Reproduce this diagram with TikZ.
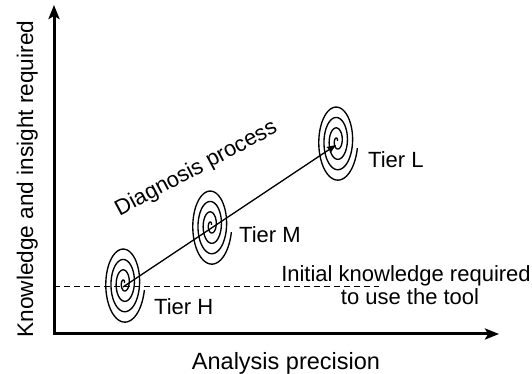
\documentclass[tikz,border=0pt]{standalone}
\usepackage{fontspec}
\setmainfont{Liberation Sans}
\usetikzlibrary{arrows.meta,calc}
\begin{document}
\begin{tikzpicture}[x=1pt,y=1pt,
  lbl/.style={font=\fontsize{22}{26}\selectfont, inner sep=0pt},
  axisline/.style={line width=3pt, line join=miter,
    {Stealth[length=14pt,width=11pt,inset=3pt]}-{Stealth[length=14pt,width=11pt,inset=3pt]}},
  flow/.style={line width=1.3pt, -{Stealth[length=9pt,width=7pt,inset=1pt]}},
  spiralline/.style={line width=1.35pt},
  guide/.style={line width=1pt, dash pattern=on 6pt off 4pt},
  spiral/.pic={\draw[spiralline] plot[domain=20:1430, samples=360, smooth]
      ({20.8*(\x/1440)*cos(\x)}, {41.7*(\x/1440)*sin(\x)});}]
\useasboundingbox (0,0) rectangle (532,374);

% axes
\coordinate (O) at (54,40);
\coordinate (ytip) at (54,369);
\coordinate (xtip) at (499,40);
\draw[axisline] (ytip) -- (O) -- (xtip);

% tier positions along the diagnosis path
\coordinate (H) at (123,87);
\coordinate (M) at (211,146);
\coordinate (L) at (336,229);

% spirals
\pic at ($(H)+(1,4)$) {spiral};
\pic at ($(M)+(0,3)$) {spiral};
\pic at ($(L)+(1,4)$) {spiral};

% initial knowledge level
\coordinate (dashstart) at (54,87);
\coordinate (dashend) at (379,87);
\draw[guide] (dashstart) -- (dashend);

% diagnosis path
\draw[flow] (H) -- (L);

% labels
\node[lbl, anchor=base west] (th) at (154,59) {Tier H};
\node[lbl, anchor=base west] (tm) at (239,131) {Tier M};
\node[lbl, anchor=base west] (tl) at (368,206) {Tier L};
\node[lbl, anchor=base] (ik1) at (406,92) {Initial knowledge required};
\node[lbl, anchor=base] (ik2) at (410,69) {to use the tool};
\node[lbl, anchor=base, rotate=28] (dp) at (199,200) {Diagnosis process};
\node[lbl, font=\fontsize{23.5}{28}\selectfont, anchor=base] (xl) at (286,4) {Analysis precision};
\node[lbl, font=\fontsize{22.6}{27}\selectfont, anchor=base, rotate=90] (yl) at (33,195) {Knowledge and insight required};
\end{tikzpicture}
\end{document}
